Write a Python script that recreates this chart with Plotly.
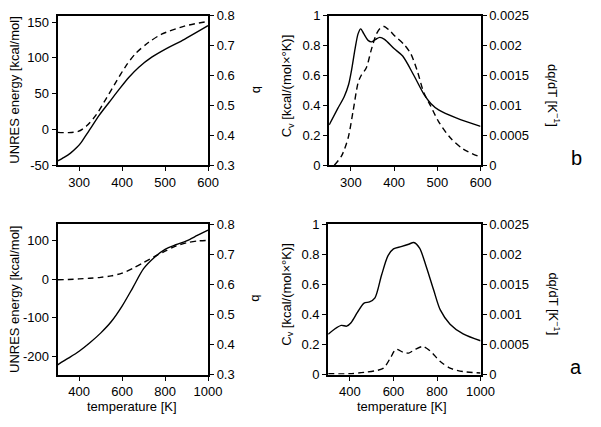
import plotly.graph_objects as go

W, H = 601, 427
FONT = "Liberation Sans, Arial, Helvetica, sans-serif"

# ---------------- panel b (top) ----------------
T_E_top = [250, 265, 280, 295, 305, 315, 325, 347, 370, 393, 416, 439, 469, 503, 545, 600]
E_top = [-44, -39, -33, -25, -18, -9, 0, 20, 38, 56, 73, 87, 101, 113, 126, 145]
T_b_top = [250, 275, 298, 317, 340, 363, 385, 408, 431, 462, 492, 545, 600]
b_top = [0.410, 0.409, 0.413, 0.431, 0.469, 0.523, 0.576, 0.630, 0.673, 0.711, 0.738, 0.765, 0.781]

T_cv_top = [250, 270, 285, 295, 302, 310, 317, 323, 330, 340, 348, 358, 367, 378, 400, 420,
            445, 470, 485, 503, 545, 600]
cv_top = [0.27, 0.38, 0.46, 0.54, 0.64, 0.78, 0.88, 0.912, 0.88, 0.835, 0.825, 0.842, 0.855,
          0.842, 0.78, 0.73, 0.605, 0.47, 0.413, 0.37, 0.315, 0.26]

T_dq_top = [262, 279, 294, 305, 317, 324, 336, 347, 359, 368, 377, 390, 402, 423, 439, 454,
            469, 484, 503, 530, 560, 600]
dq_top = [0.0, 0.00016, 0.00046, 0.00089, 0.00138, 0.0015, 0.00163, 0.00192, 0.00219, 0.00229,
          0.00232, 0.00225, 0.00216, 0.00202, 0.00186, 0.00157, 0.00121, 0.0010, 0.00073,
          0.00046, 0.00027, 0.000135]

# ---------------- panel a (bottom) ----------------
T_bot = [300, 350, 400, 450, 500, 550, 600, 650, 700, 750, 800, 850, 900, 950, 1000]
E_bot = [-222, -205, -187, -165, -140, -110, -70, -22, 27, 56, 77, 89, 99, 113, 127]
b_bot = [0.615, 0.616, 0.618, 0.620, 0.623, 0.628, 0.637, 0.653, 0.672, 0.692, 0.710, 0.727,
         0.738, 0.744, 0.746]

T_cv_bot = [300, 327, 360, 385, 405, 435, 465, 490, 515, 545, 575, 600, 635, 670, 693, 720,
            750, 785, 815, 860, 920, 1000]
cv_bot = [0.268, 0.30, 0.327, 0.322, 0.345, 0.415, 0.475, 0.483, 0.51, 0.66, 0.79, 0.835, 0.85,
          0.866, 0.878, 0.84, 0.72, 0.56, 0.43, 0.335, 0.27, 0.225]

T_dq_bot = [300, 400, 465, 525, 555, 585, 612, 645, 670, 700, 735, 770, 815, 860, 920, 1000]
dq_bot = [0.000015, 0.000015, 0.0000375, 0.00007, 0.000108, 0.00027, 0.00042, 0.00037,
          0.000358, 0.00042, 0.000465, 0.000388, 0.000218, 0.000108, 0.00005, 0.0000275]

# ---------------- ticks ----------------
xt_top = [300, 400, 500, 600]
xt_bot = [400, 600, 800, 1000]
Et_top = [-50, 0, 50, 100, 150]
Et_top_txt = ["-50", "0", "50", "100", "150"]
Et_bot = [-200, -100, 0, 100]
Et_bot_txt = ["-200", "-100", "0", "100"]
bt = [0.3, 0.4, 0.5, 0.6, 0.7, 0.8]
bt_txt = ["0.3", "0.4", "0.5", "0.6", "0.7", "0.8"]
cvt = [0, 0.2, 0.4, 0.6, 0.8, 1.0]
cvt_txt = ["0", "0.2", "0.4", "0.6", "0.8", "1"]
dqt = [0, 0.0005, 0.001, 0.0015, 0.002, 0.0025]
dqt_txt = ["0", "0.0005", "0.001", "0.0015", "0.002", "0.0025"]

# panel boxes in pixels: (x0, x1, ytop, ybottom)
boxes = {
    "TL": (59, 213, 9, 164),
    "TR": (337, 492, 9, 164),
    "BL": (59, 213, 225, 381),
    "BR": (336, 492, 225, 381),
}


def dx(p):
    return p / W


def dy(p):
    return 1 - p / H


fig = go.Figure()
solid = dict(color="black", width=1.4, shape="spline", smoothing=0.8)
dashed = dict(color="black", width=1.4, dash="6px,4px", shape="spline", smoothing=0.8)

fig.add_trace(go.Scatter(x=T_E_top, y=E_top, mode="lines", line=solid, xaxis="x", yaxis="y"))
fig.add_trace(go.Scatter(x=T_b_top, y=b_top, mode="lines", line=dashed, xaxis="x", yaxis="y2"))
fig.add_trace(go.Scatter(x=T_cv_top, y=cv_top, mode="lines", line=solid, xaxis="x2", yaxis="y3"))
fig.add_trace(go.Scatter(x=T_dq_top, y=dq_top, mode="lines", line=dashed, xaxis="x2", yaxis="y4"))
fig.add_trace(go.Scatter(x=T_bot, y=E_bot, mode="lines", line=solid, xaxis="x3", yaxis="y5"))
fig.add_trace(go.Scatter(x=T_bot, y=b_bot, mode="lines", line=dashed, xaxis="x3", yaxis="y6"))
fig.add_trace(go.Scatter(x=T_cv_bot, y=cv_bot, mode="lines", line=solid, xaxis="x4", yaxis="y7"))
fig.add_trace(go.Scatter(x=T_dq_bot, y=dq_bot, mode="lines", line=dashed, xaxis="x4", yaxis="y8"))

tickfont = dict(family=FONT, size=13, color="black")
common = dict(showgrid=False, zeroline=False, showline=True, linecolor="black", linewidth=2,
              ticks="outside", ticklen=4, tickwidth=1.3, tickcolor="black", tickfont=tickfont,
              tickmode="array", fixedrange=True)


def xaxis(box, rng, tv, anchor):
    x0, x1, yt, yb = box
    return dict(common, domain=[dx(x0), dx(x1)], range=rng, tickvals=tv,
                ticktext=[str(v) for v in tv], anchor=anchor, mirror=True)


def yleft(box, rng, tv, tt, anchor):
    x0, x1, yt, yb = box
    return dict(common, domain=[dy(yb), dy(yt)], range=rng, tickvals=tv, ticktext=tt,
                anchor=anchor, side="left")


def yright(rng, tv, tt, anchor, over):
    return dict(common, range=rng, tickvals=tv, ticktext=tt, anchor=anchor, side="right",
                overlaying=over)


fig.update_layout(
    xaxis=xaxis(boxes["TL"], [250, 600], xt_top, "y"),
    yaxis=yleft(boxes["TL"], [-50, 159], Et_top, Et_top_txt, "x"),
    yaxis2=yright([0.3, 0.8], bt, bt_txt, "x", "y"),
    xaxis2=xaxis(boxes["TR"], [250, 600], xt_top, "y3"),
    yaxis3=yleft(boxes["TR"], [0, 1], cvt, cvt_txt, "x2"),
    yaxis4=yright([0, 0.0025], dqt, dqt_txt, "x2", "y3"),
    xaxis3=xaxis(boxes["BL"], [300, 1000], xt_bot, "y5"),
    yaxis5=yleft(boxes["BL"], [-247.5, 142.5], Et_bot, Et_bot_txt, "x3"),
    yaxis6=yright([0.3, 0.8], bt, bt_txt, "x3", "y5"),
    xaxis4=xaxis(boxes["BR"], [300, 1000], xt_bot, "y7"),
    yaxis7=yleft(boxes["BR"], [0, 1], cvt, cvt_txt, "x4"),
    yaxis8=yright([0, 0.0025], dqt, dqt_txt, "x4", "y7"),
)


def ann(text, px, py, angle=0, size=13):
    return dict(text=text, x=dx(px), y=dy(py), xref="paper", yref="paper",
                xanchor="center", yanchor="middle", showarrow=False, textangle=angle,
                font=dict(family=FONT, size=size, color="black"))


annotations = [
    ann("UNRES energy [kcal/mol]", 15, 86, -90),
    ann("UNRES energy [kcal/mol]", 15, 303, -90),
    ann("b", 263, 86, 90),
    ann("b", 263, 302, 90),
    ann("C<sub>v</sub> [kcal/(mol×°K)]", 294, 82, -90),
    ann("C<sub>v</sub> [kcal/(mol×°K)]", 294, 298, -90),
    ann("dq/dT [K<sup>−1</sup>]", 567, 92, 90),
    ann("dq/dT [K<sup>−1</sup>]", 567, 308, 90),
    ann("temperature [K]", 135, 414),
    ann("temperature [K]", 412, 414),
    ann("b", 590, 156, 0, 20),
    ann("a", 590, 373, 0, 20),
]

fig.update_layout(
    width=W, height=H, showlegend=False,
    margin=dict(l=0, r=0, t=0, b=0, pad=0),
    paper_bgcolor="white", plot_bgcolor="white",
    font=dict(family=FONT, size=13, color="black"),
    annotations=annotations,
)

fig.write_html(
    "out.html", include_plotlyjs=True, config={"displayModeBar": False},
    post_script="document.body.style.margin='0';document.body.style.overflow='hidden';",
)
